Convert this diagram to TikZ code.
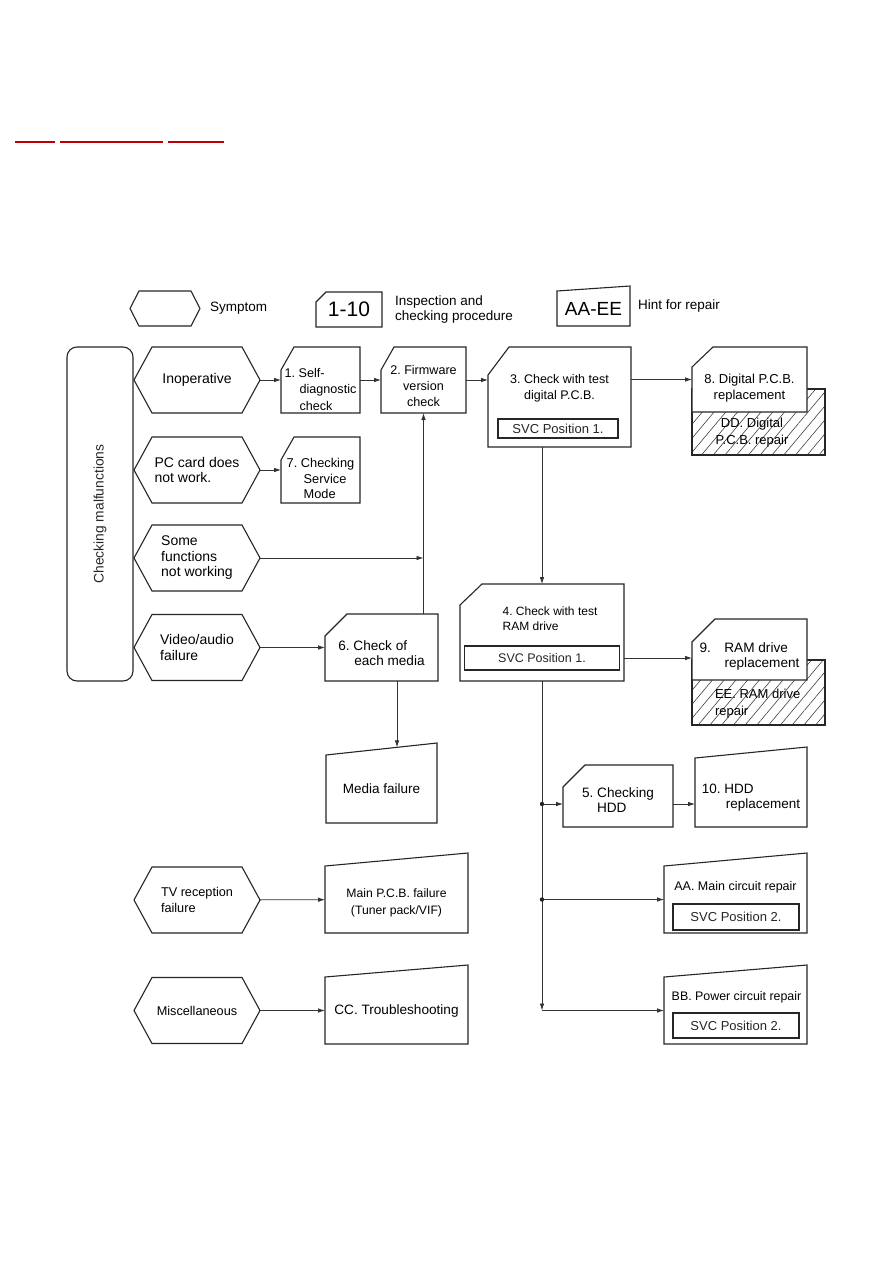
\documentclass[tikz,border=0pt]{standalone}
\usepackage{fontspec}
\setmainfont{Liberation Sans}
\frenchspacing
\usetikzlibrary{arrows.meta,patterns.meta,positioning}

\begin{document}
\begin{tikzpicture}[x=1pt,y=-1pt,
  >={Latex[length=7pt,width=4.6pt]},
  every node/.style={inner sep=0pt,outer sep=0pt},
  frame/.style={line width=1.1pt,black!85,fill=white},
  link/.style={line width=0.8pt,black!80},
  symptom/.style={minimum width=126pt,minimum height=66pt,align=left,font=\fontsize{14}{15.5}\selectfont,
    append after command={\pgfextra{\let\sn\tikzlastnode
      \draw[frame] (\sn.west) -- ([xshift=#1]\sn.north west) -- ([xshift=-#1]\sn.north east) -- (\sn.east)
        -- ([xshift=-#1]\sn.south east) -- ([xshift=#1]\sn.south west) -- cycle;}}},
  symptom/.default=18pt,
  check/.style 2 args={align=left,font=\fontsize{13}{16}\selectfont,
    append after command={\pgfextra{\let\cn\tikzlastnode
      \draw[frame] ([yshift=-#2]\cn.north west) -- ([xshift=#1]\cn.north west) -- (\cn.north east)
        -- (\cn.south east) -- (\cn.south west) -- cycle;}}},
  hint/.style={align=left,font=\fontsize{13.5}{15}\selectfont,
    append after command={\pgfextra{\let\hn\tikzlastnode
      \draw[frame] (\hn.north west) -- ([yshift=#1]\hn.north east) -- (\hn.south east)
        -- (\hn.south west) -- cycle;}}},
  hint/.default=12pt,
  svc/.style={draw,line width=1.4pt,black!85,font=\fontsize{13}{15}\selectfont},
  hatch/.style={draw,line width=1.1pt,black!85,pattern={Lines[angle=50,distance=9pt,line width=0.6pt]},pattern color=black!75}
]
\useasboundingbox (0,0) rectangle (893,1263);

% links at the top
\foreach \a/\b in {15/55,60/163,168/224}
  \draw[red!75!black,line width=1.2pt] (\a,142) -- (\b,142);

% legend
\node[symptom=9pt,minimum width=70pt,minimum height=35pt] (lsym) at (165,308.5) {};
\node[anchor=west,font=\fontsize{13.5}{15}\selectfont] (lsymtxt) at (210,308.5) {Symptom};
\node[check={10pt}{10pt},minimum width=66pt,minimum height=35pt,font=\fontsize{21}{23}\selectfont] (lcheck) at (349,309.5) {1-10};
\node[anchor=west,align=left,font=\fontsize{13.5}{15}\selectfont] (lchecktxt) at (395,309.5) {Inspection and\\checking procedure};
\node[hint=5pt,minimum width=73pt,minimum height=35pt,font=\fontsize{19}{21}\selectfont] (lhint) at (593.5,308.5) {AA-EE};
\node[anchor=west,font=\fontsize{13.5}{15}\selectfont] (lhinttxt) at (638,306) {Hint for repair};

% symptoms
\node[draw,line width=1.1pt,black!85,rounded corners=10pt,rotate=90,minimum width=334pt,minimum height=66pt,
  font=\fontsize{13.8}{16}\selectfont] (malfunc) at (100,514) {Checking malfunctions};
\node[symptom] (inop) at (197,380) {Inoperative};
\node[symptom] (pccard) at (197,470) {PC card does\\not work.};
\node[symptom] (somefn) at (197,558) {Some\\functions\\not working};
\node[symptom] (video) at (197,647.5) {Video/audio\\failure};
\node[symptom,font=\fontsize{12.7}{16}\selectfont] (tvrec) at (197,900) {TV reception\\failure};
\node[symptom,font=\fontsize{12.7}{16}\selectfont] (misc) at (197,1010.5) {Miscellaneous};

% checking procedures
\node[check={13pt}{23pt},minimum width=79pt,minimum height=66pt,text height=61pt,font=\fontsize{12.6}{16.5}\selectfont] (selfdiag) at (320.5,380) {1. Self-\\\hspace*{15pt}diagnostic\\\hspace*{15pt}check};
\node[check={13pt}{23pt},minimum width=85pt,minimum height=66pt,text height=54pt,align=center,font=\fontsize{12.6}{16}\selectfont] (firmware) at (423.5,380) {2. Firmware\\version\\check};
\node[check={13pt}{23pt},minimum width=79pt,minimum height=66pt,text height=58pt,font=\fontsize{12.8}{15.5}\selectfont] (service) at (320.5,470) {7. Checking\\\hspace*{17pt}Service\\\hspace*{17pt}Mode};

\node[check={21pt}{28pt},minimum width=143pt,minimum height=100pt] (digital) at (559.5,397) {};
\node[align=center,font=\fontsize{12.5}{16}\selectfont] (digitaltxt) at (559.5,388) {3. Check with test\\digital P.C.B.};
\node[svc,minimum width=120pt,minimum height=19pt] (svcdigital) at (558,428.5) {SVC Position 1.};

\node[hatch,minimum width=133pt,minimum height=66pt] (ddrepair) at (758.5,422) {};
\node[align=center,font=\fontsize{13}{17}\selectfont] (ddtxt) at (752,433) {DD. Digital\\P.C.B. repair};
\node[check={21pt}{20pt},minimum width=115pt,minimum height=65pt,text height=43pt,align=center] (digrepl) at (749.5,379.5) {8. Digital P.C.B.\\replacement};

\node[check={22pt}{21pt},minimum width=164pt,minimum height=97pt] (ramtest) at (542,632.5) {};
\node[align=left,font=\fontsize{12}{15}\selectfont] (ramtesttxt) at (550,618.5) {4. Check with test\\RAM drive};
\node[svc,minimum width=155pt,minimum height=24pt,font=\fontsize{12.5}{15}\selectfont] (svcramtest) at (542,658) {SVC Position 1.};

\node[hatch,minimum width=133pt,minimum height=65pt] (eerepair) at (758.5,692.5) {};
\node[anchor=west,align=left,font=\fontsize{13}{17}\selectfont] (eetxt) at (715,703.5) {EE. RAM drive\\repair};
\node[check={23pt}{23pt},minimum width=115pt,minimum height=61pt,text height=39pt,font=\fontsize{13.6}{15}\selectfont] (ramrepl) at (749.5,649.5) {9.\hspace{13.5pt}RAM drive\\\hspace*{25pt}replacement};

\node[check={22pt}{22pt},minimum width=113pt,minimum height=67pt,text height=36pt,font=\fontsize{13.6}{15}\selectfont] (eachmedia) at (381.5,647.5) {6. Check of\\\hspace*{16pt}each media};
\node[check={22pt}{22pt},minimum width=110pt,minimum height=62pt,text height=32pt,font=\fontsize{13.6}{14.5}\selectfont] (hdd) at (618,796) {5. Checking\\\hspace*{15pt}HDD};

% hints for repair
\node[hint,minimum width=111pt,minimum height=68pt] (mediafail) at (381.5,789) {Media failure};
\node[hint=11pt,minimum width=112pt,minimum height=69pt,text height=35pt] (hddrepl) at (751,792.5) {10. HDD\\\hspace*{24pt}replacement};
\node[hint=13pt,minimum width=143pt,minimum height=67pt,text height=32pt,align=center,font=\fontsize{12.2}{17}\selectfont] (mainpcb) at (396.5,899.5) {Main P.C.B. failure\\(Tuner pack/VIF)};
\node[hint,minimum width=143pt,minimum height=67pt,font=\fontsize{13.6}{15}\selectfont] (trouble) at (396.5,1010.5) {CC. Troubleshooting};

\node[hint=13pt,minimum width=143pt,minimum height=67pt] (maincirc) at (735.5,899.5) {};
\node[font=\fontsize{12.5}{14}\selectfont] (maincirctxt) at (735.5,887) {AA. Main circuit repair};
\node[svc,minimum width=126pt,minimum height=26pt] (svcmain) at (736,917) {SVC Position 2.};

\node[hint,minimum width=143pt,minimum height=67pt] (pwr) at (735.5,1010.5) {};
\node[font=\fontsize{12.4}{14}\selectfont] (pwrtxt) at (736.5,997) {BB. Power circuit repair};
\node[svc,minimum width=126pt,minimum height=25pt] (svcpwr) at (736,1025.5) {SVC Position 2.};

% junctions on the long line
\path ([yshift=-8pt]hdd.west) coordinate (hddin)
  (ramtest.south |- hddin) coordinate (hddjoin)
  (ramtest.south |- maincirc.west) coordinate (mainjoin);

\path[->,link]
  (inop) edge (selfdiag)
  (selfdiag) edge (firmware)
  (firmware.east) edge (firmware.east -| digital.west)
  (digrepl.west -| digital.east) edge (digrepl.west)
  (pccard) edge (service)
  (somefn) edge (somefn -| firmware.south)
  (eachmedia.north -| firmware.south) edge (firmware.south)
  (video) edge (eachmedia)
  ([xshift=15.5pt]eachmedia.south) edge ([xshift=15.5pt,yshift=7.7pt]mediafail.north)
  (digital.south -| ramtest.north) edge (ramtest.north)
  (svcramtest.east -| ramtest.east) edge (svcramtest.east -| ramrepl.west)
  (ramtest.south) edge (ramtest.south |- pwr.west)
  (ramtest.south |- pwr.west) edge (pwr.west)
  (hddjoin) edge (hddin)
  (hddin -| hdd.east) edge (hddin -| hddrepl.west)
  (mainjoin) edge (maincirc.west)
  (tvrec) edge (mainpcb)
  (misc) edge (trouble);
\fill[black!85] (hddjoin) circle (2.2pt) (mainjoin) circle (2.2pt);
\end{tikzpicture}
\end{document}
